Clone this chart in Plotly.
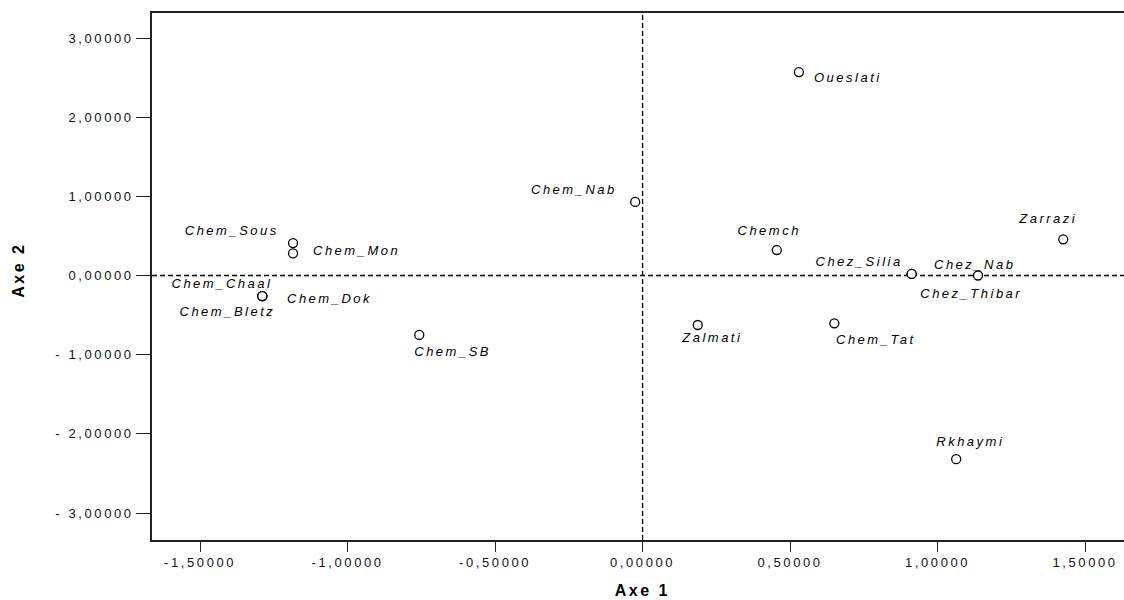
import plotly.graph_objects as go

# ---- data ----
names = ["Oueslati", "Chem_Nab", "Chem_Sous", "Chem_Mon", "Chem_Chaal", "Chem_Dok",
         "Chem_Bletz", "Chem_SB", "Zalmati", "Chem_Tat", "Chemch", "Chez_Silia",
         "Chez_Thibar", "Chez_Nab", "Zarrazi", "Rkhaymi"]
axe1 = [0.530, -0.025, -1.185, -1.185, -1.289, -1.289, -1.289, -0.757, 0.187, 0.650,
        0.455, 0.912, 0.912, 1.137, 1.426, 1.063]
axe2 = [2.57, 0.93, 0.41, 0.28, -0.26, -0.26, -0.26, -0.75, -0.625, -0.604,
        0.322, 0.02, 0.02, 0.0, 0.457, -2.32]

x_ticks = [-1.5, -1.0, -0.5, 0.0, 0.5, 1.0, 1.5]
x_ticktext = ["-1,50000", "-1,00000", "-0,50000", "0,00000", "0,50000", "1,00000", "1,50000"]
y_ticks = [3, 2, 1, 0, -1, -2, -3]
y_ticktext = ["3,00000", "2,00000", "1,00000", "0,00000", "- 1,00000", "- 2,00000", "- 3,00000"]

# label offsets in pixels (style only)
label_shift = {
    "Oueslati": (50, -5), "Chem_Nab": (-61, 12), "Chem_Sous": (-61, 13),
    "Chem_Mon": (63, 3), "Chem_Chaal": (-40, 13), "Chem_Dok": (68, -2),
    "Chem_Bletz": (-35, -15), "Chem_SB": (34, -17), "Zalmati": (15, -13),
    "Chem_Tat": (42, -16), "Chemch": (-8, 20), "Chez_Silia": (-53, 12),
    "Chez_Thibar": (60, -20), "Chez_Nab": (-4, 11), "Zarrazi": (-15, 21),
    "Rkhaymi": (15, 18),
}

fig = go.Figure()
fig.add_trace(go.Scatter(
    x=axe1, y=axe2, mode="markers",
    marker=dict(symbol="circle", size=9, color="white",
                line=dict(color="black", width=1.3)),
    hoverinfo="text", text=names, showlegend=False,
))

annotations = []
for n, xv, yv in zip(names, axe1, axe2):
    dx, dy = label_shift[n]
    annotations.append(dict(
        x=xv, y=yv, xref="x", yref="y", text=n, showarrow=False,
        xanchor="center", yanchor="middle", xshift=dx, yshift=dy,
        font=dict(family="Liberation Sans", size=13, color="black", style="italic"),
    ))

# axis titles
annotations.append(dict(
    x=0, y=0, xref="x", yref="paper", text="<b>Axe 1</b>", showarrow=False,
    xanchor="center", yanchor="middle", xshift=0, yshift=-50,
    font=dict(family="Liberation Sans", size=16, color="black"),
))
annotations.append(dict(
    x=0, y=0.5, xref="paper", yref="paper", text="<b>Axe 2</b>", showarrow=False,
    xanchor="center", yanchor="middle", xshift=-134, yshift=6, textangle=-90,
    font=dict(family="Liberation Sans", size=16, color="black"),
))

shapes = [
    dict(type="line", xref="x", yref="paper", x0=0, x1=0, y0=0, y1=1,
         line=dict(color="black", width=1.3, dash="5px,3px"), layer="below"),
    dict(type="line", xref="paper", yref="y", x0=0, x1=1, y0=0, y1=0,
         line=dict(color="black", width=1.3, dash="5px,3px"), layer="below"),
]

fig.update_layout(
    width=1132, height=600,
    margin=dict(l=152, r=0, t=13, b=60),
    paper_bgcolor="white", plot_bgcolor="white",
    annotations=annotations, shapes=shapes,
    font=dict(family="Liberation Sans", color="black"),
)
fig.update_xaxes(
    range=[-1.663, 1.659], tickvals=x_ticks, ticktext=x_ticktext,
    showgrid=False, zeroline=False, showline=True, linecolor="#222", linewidth=1.5,
    mirror=True, ticks="outside", ticklen=10, tickwidth=1.3, tickcolor="#222",
    tickfont=dict(size=13, color="#111"),
)
fig.update_yaxes(
    range=[-3.341, 3.316], tickvals=y_ticks, ticktext=y_ticktext,
    showgrid=False, zeroline=False, showline=True, linecolor="#222", linewidth=1.5,
    ticks="outside", ticklen=14, tickwidth=1.3, tickcolor="#222",
    tickfont=dict(size=13, color="#111"),
)

js = """
document.body.style.margin = '0';
document.body.style.overflow = 'hidden';
var gd = document.getElementById('{plot_id}');
gd.querySelectorAll('.annotation-text').forEach(function(e){ e.style.letterSpacing = '2.5px'; });
gd.querySelectorAll('.xtick text, .ytick text').forEach(function(e){ e.style.letterSpacing = '2.6px'; });
"""

fig.write_html("out.html", post_script=js, config={"displayModeBar": False})
